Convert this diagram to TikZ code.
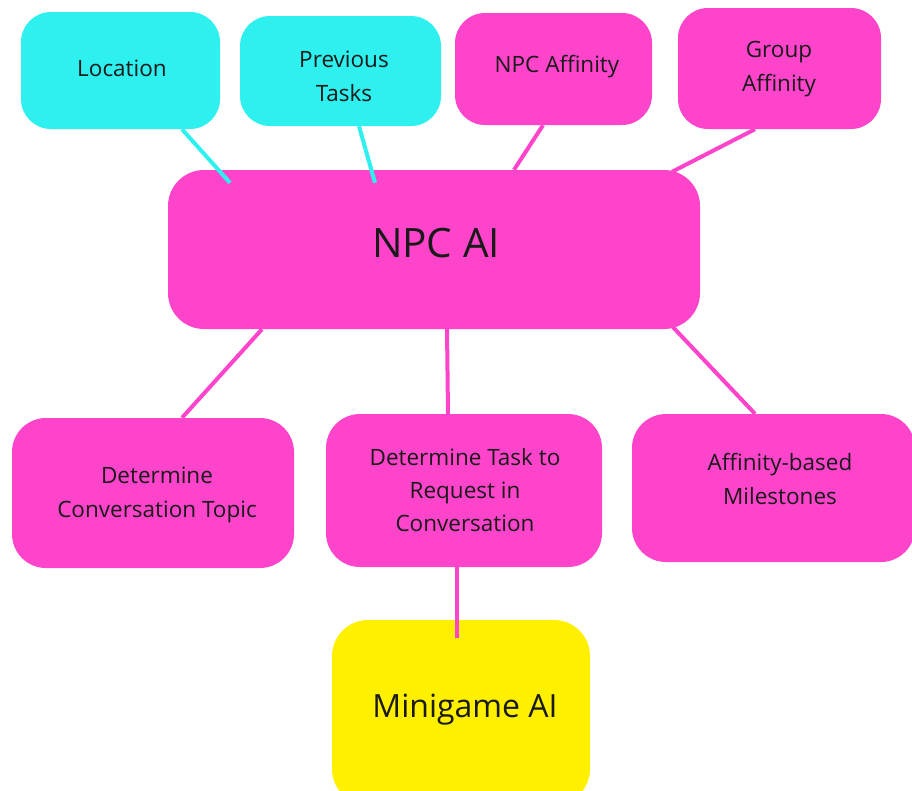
\documentclass[tikz,border=0pt]{standalone}
\usepackage{fontspec}
\setmainfont{Open Sans}
\definecolor{aqua}{RGB}{46,240,238}
\definecolor{pinkbox}{RGB}{255,68,204}
\definecolor{lemon}{RGB}{255,240,0}
\definecolor{ink}{RGB}{26,26,26}
\begin{document}
\begin{tikzpicture}[x=1pt,y=-1pt,
  box/.style={rectangle, rounded corners=30pt, draw=none, inner sep=0pt},
  lbl/.style={text=ink, align=center, font=\fontsize{22.5}{34}\selectfont},
  aqualink/.style={draw=aqua, line width=4pt},
  pinklink/.style={draw=pinkbox, line width=4pt}]
\useasboundingbox (0,0) rectangle (912,790);
\clip (0,0) rectangle (912,790);

% boxes
\node[box, fill=aqua, minimum width=199pt, minimum height=117pt] (loc) at (120.5,70.5) {};
\node[box, fill=aqua, minimum width=201pt, minimum height=110pt] (prev) at (340.5,71) {};
\node[box, fill=pinkbox, minimum width=197pt, minimum height=112pt] (npcaff) at (553.5,69) {};
\node[box, fill=pinkbox, minimum width=203pt, minimum height=121pt] (grpaff) at (779.5,68.5) {};
\node[box, fill=pinkbox, minimum width=532pt, minimum height=159pt, rounded corners=36pt] (ai) at (434,249.5) {};
\node[box, fill=pinkbox, minimum width=282pt, minimum height=150pt, rounded corners=34pt] (topic) at (153,493) {};
\node[box, fill=pinkbox, minimum width=276pt, minimum height=153pt, rounded corners=34pt] (task) at (464,490.5) {};
\node[box, fill=pinkbox, minimum width=283pt, minimum height=148pt, rounded corners=34pt] (miles) at (773.5,488) {};
\node[box, fill=lemon, minimum width=258pt, minimum height=185pt, rounded corners=36pt] (mini) at (461,712.5) {};

% connectors (shifts are in page units: negative yshift points down)
\draw[aqualink] ([xshift=61.5pt]loc.south) -- ([xshift=-204pt,yshift=-13pt]ai.north);
\draw[aqualink] ([xshift=18.5pt]prev.south) -- ([xshift=-59pt,yshift=-13pt]ai.north);
\draw[pinklink] ([xshift=-10.5pt]npcaff.south) -- ([xshift=80pt]ai.north);
\draw[pinklink] ([xshift=-24.5pt]grpaff.south) -- ([xshift=238pt,yshift=-2pt]ai.north);
\draw[pinklink] ([xshift=-172pt]ai.south) -- ([xshift=29pt]topic.north);
\draw[pinklink] ([xshift=13pt]ai.south) -- ([xshift=-16pt]task.north);
\draw[pinklink] ([xshift=239pt,yshift=2pt]ai.south) -- ([xshift=-18.5pt]miles.north);
\draw[pinklink] ([xshift=-7pt]task.south) -- ([xshift=-4pt,yshift=-18pt]mini.north);

% labels
\node[lbl] (loctxt) at (122,68) {Location};
\node[lbl] (prevtxt) at (344,76) {Previous\\Tasks};
\node[lbl] (npcafftxt) at (557,67) {NPC Affinity};
\node[lbl] (grpafftxt) at (779,69) {Group\\Affinity};
\node[text=ink, font=\fontsize{40.5}{42}\selectfont] (aitxt) at (436,243) {NPC AI};
\node[lbl] (topictxt) at (157,494.5) {Determine\\Conversation Topic};
\node[lbl, font=\fontsize{22.5}{33}\selectfont] (tasktxt) at (465,490) {Determine Task to\\Request in\\Conversation};
\node[lbl] (milestxt) at (780,478.5) {Affinity-based\\Milestones};
\node[text=ink, font=\fontsize{32}{34}\selectfont] (minitxt) at (465,710) {Minigame AI};
\end{tikzpicture}
\end{document}
